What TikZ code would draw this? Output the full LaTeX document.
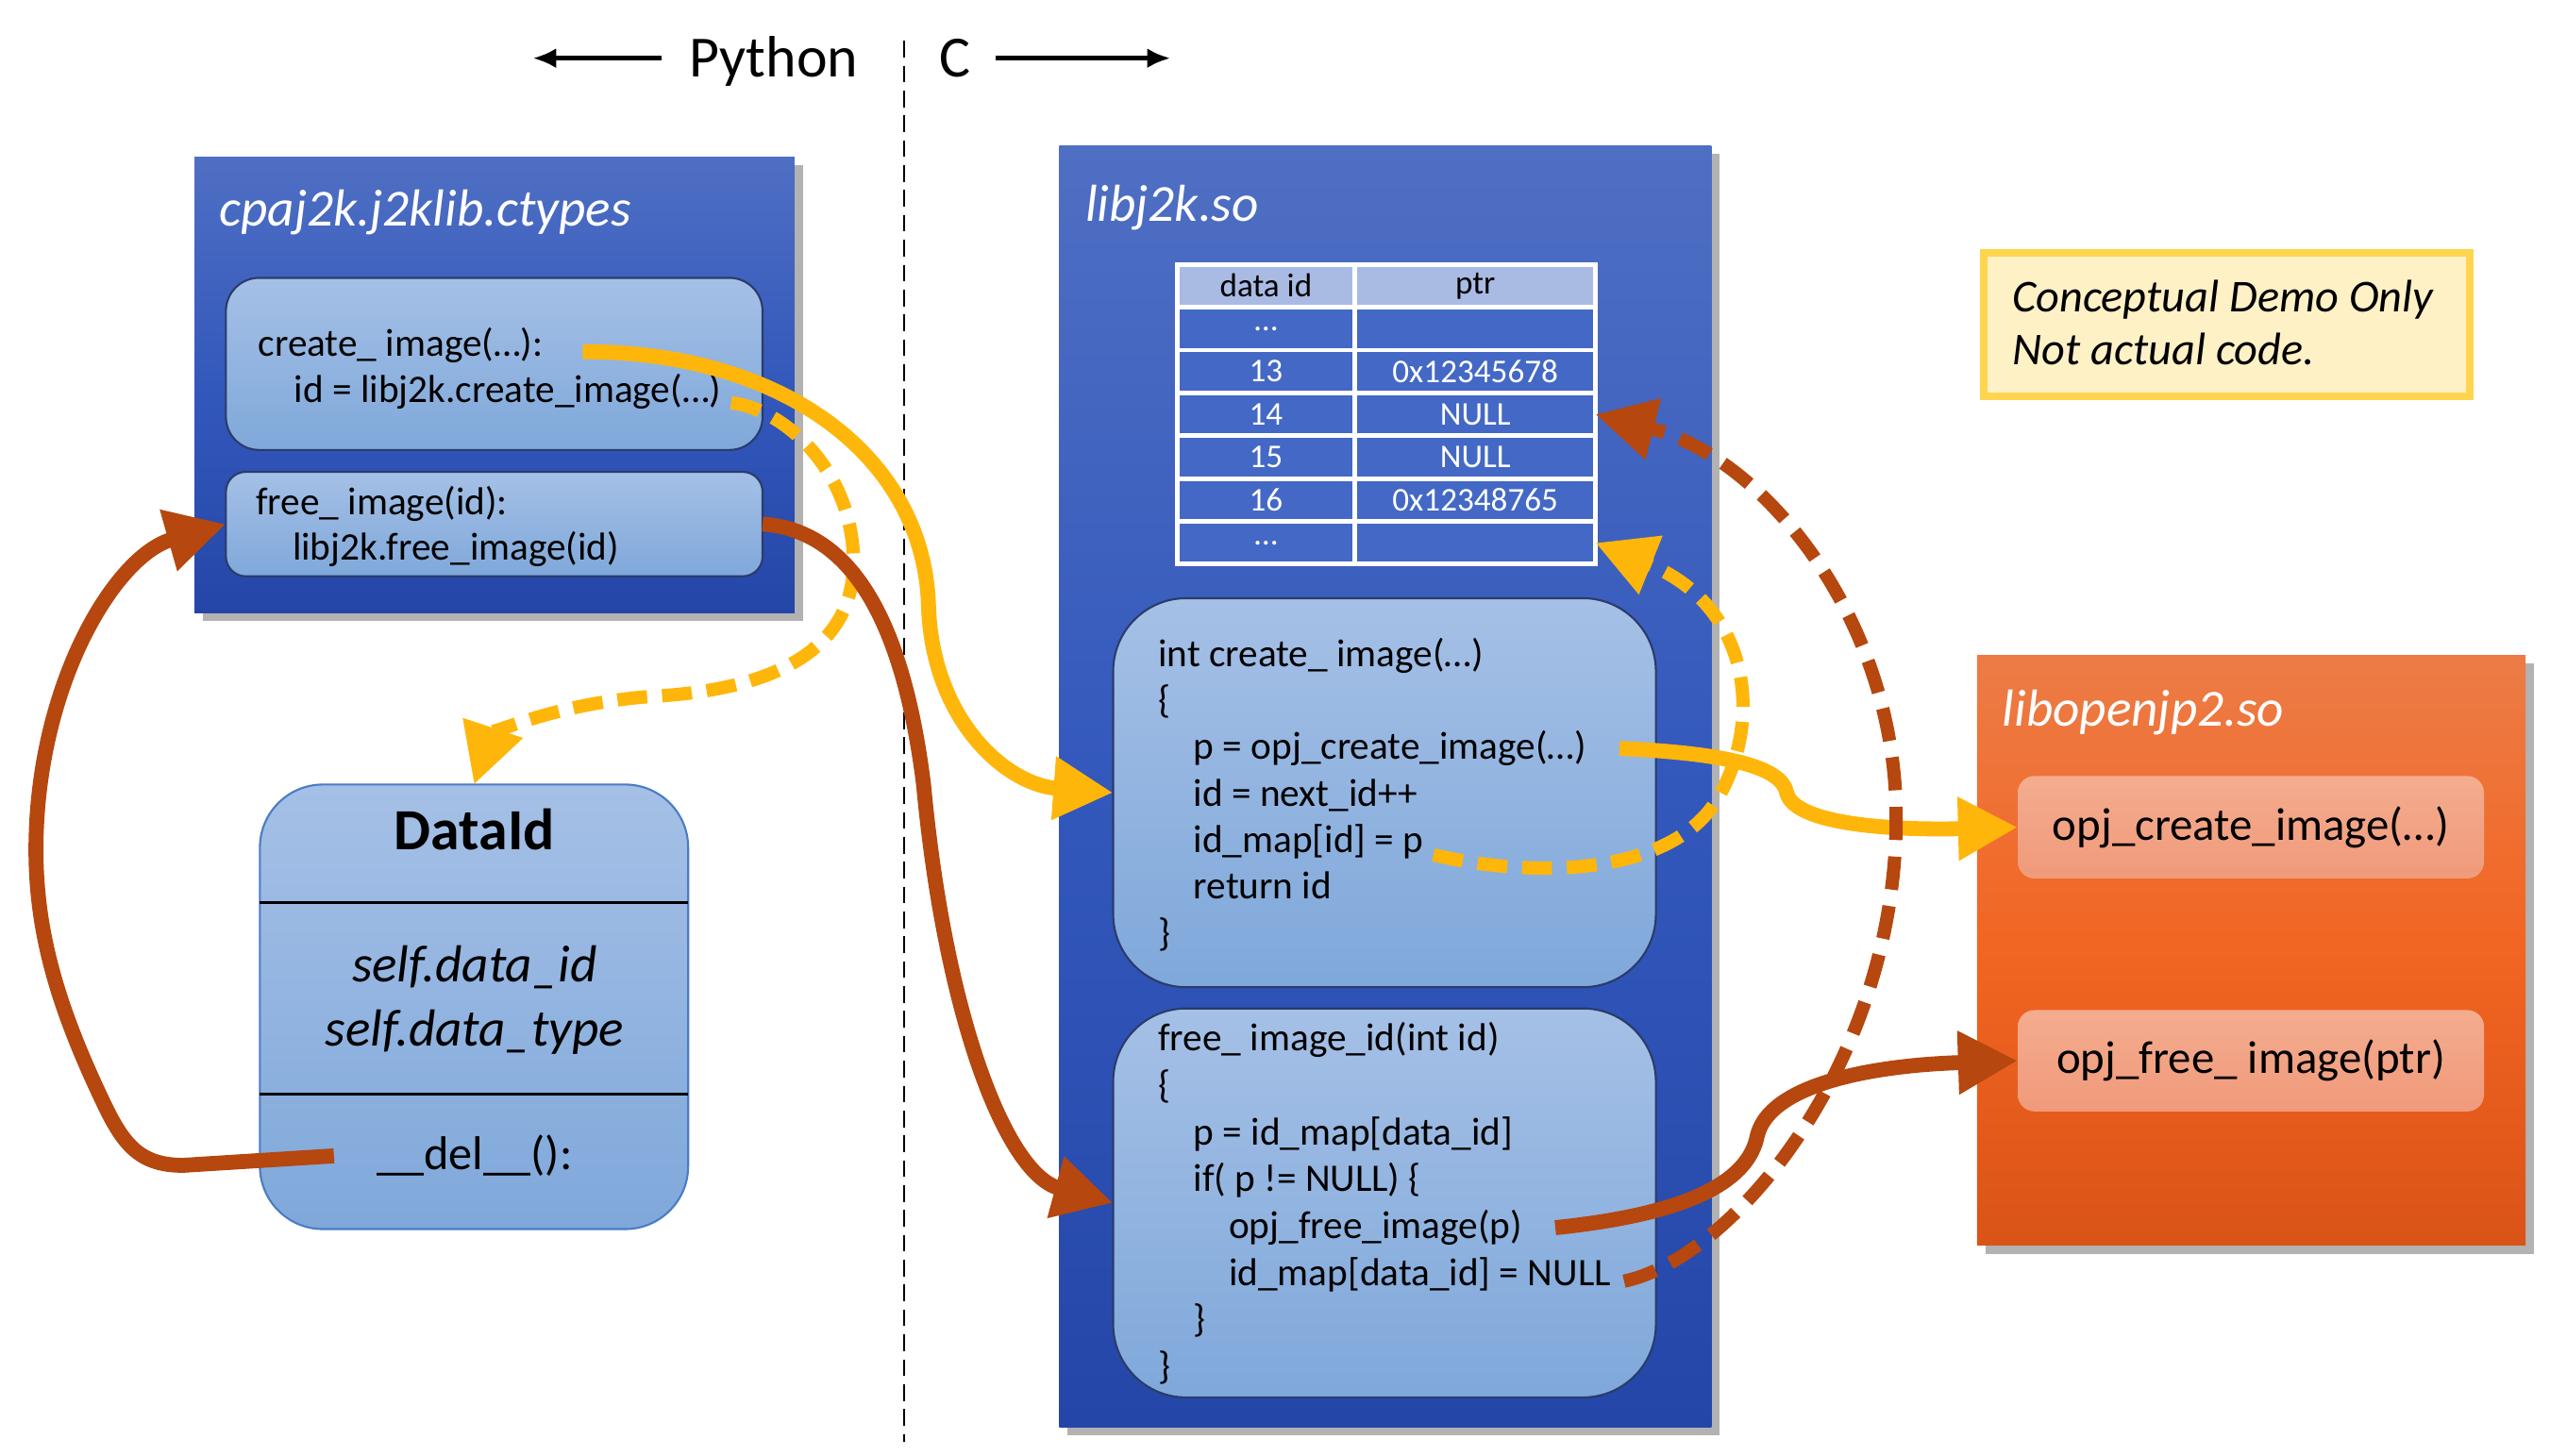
\documentclass[tikz,border=0pt]{standalone}
\usepackage{fontspec}
\setmainfont{Carlito}
\usetikzlibrary{arrows.meta, fit, shadows}

\definecolor{boxtop}{HTML}{4F6FC3}
\definecolor{boxmid}{HTML}{3358BC}
\definecolor{boxbot}{HTML}{2446A8}
\definecolor{lbtop}{HTML}{A5C0E6}
\definecolor{lbbot}{HTML}{7FA8DA}
\definecolor{navyline}{HTML}{2B3C6A}
\definecolor{dataline}{HTML}{4A7CC4}
\definecolor{ortop}{HTML}{EC7C46}
\definecolor{ormid}{HTML}{F26522}
\definecolor{orbot}{HTML}{DA5317}
\definecolor{opjtop}{HTML}{F4AC8F}
\definecolor{opjbot}{HTML}{F09A7A}
\definecolor{notefill}{HTML}{FFF1C6}
\definecolor{noteline}{HTML}{FFD44F}
\definecolor{headblue}{HTML}{A9BBE3}
\definecolor{cellblue}{HTML}{4468C5}
\definecolor{ylw}{HTML}{FFB60B}
\definecolor{brn}{HTML}{B5470F}

\begin{document}
\begin{tikzpicture}[
    x=0.01732cm, y=-0.01732cm,
    every node/.style={inner sep=0pt, outer sep=0pt},
    shade/.style={drop shadow={shadow xshift=2.5pt, shadow yshift=-2.5pt, opacity=.3, fill=black}},
    bluebox/.style={rectangle, top color=boxtop, bottom color=boxbot, middle color=boxmid, shade},
    orangebox/.style={rectangle, top color=ortop, bottom color=orbot, middle color=ormid, shade},
    funcbox/.style={rectangle, rounded corners=#1, draw=navyline, line width=.6pt, top color=lbtop, bottom color=lbbot},
    funcbox/.default=10pt,
    opjbox/.style={rectangle, rounded corners=5pt, top color=opjtop, bottom color=opjbot},
    opjtext/.style={font=\fontsize{13.9}{17}\selectfont},
    title/.style={font=\fontsize{15.7}{19}\selectfont\itshape, text=white, anchor=base west},
    hdr/.style={font=\fontsize{17.6}{21}\selectfont, anchor=base west},
    code/.style={font=\fontsize{11.75}{14.3}\selectfont, anchor=base west},
    big/.style={font=\fontsize{15.7}{19}\selectfont, anchor=base},
    cell/.style={draw=white, line width=1.4pt, fill=cellblue, text=white, font=\fontsize{10}{12}\selectfont, minimum height=0.4538cm},
    headcell/.style={cell, fill=headblue, text=black},
    hdrarrow/.style={line width=1.3pt, -{Latex[length=7pt,width=6pt]}},
    yarrow/.style={draw=ylw, line width=4.5pt, -{Triangle[length=18pt,width=18pt]}},
    barrow/.style={draw=brn, line width=4.5pt, -{Triangle[length=18pt,width=18pt]}},
    ydash/.style={yarrow, line width=4pt, dash pattern=on 9pt off 4.5pt},
    bdash/.style={barrow, line width=4pt, dash pattern=on 10pt off 5pt}
  ]
  \useasboundingbox (0,0) rectangle (1560,890.3);

  % header
  \node[hdr] (py) at (421.6,47) {Python};
  \node[hdr] (cc) at (575,47) {C};
  \coordinate (pyarr) at (405,35.6);
  \coordinate (pyend) at (326,35.6);
  \coordinate (carr) at (609,35.6);
  \coordinate (cend) at (716,35.6);
  \draw[hdrarrow] (pyarr) -- (pyend);
  \draw[hdrarrow] (carr) -- (cend);
  \coordinate (divtop) at (553,25);
  \coordinate (divbot) at (553,882);
  \draw[line width=.6pt, dash pattern=on 5pt off 2.5pt] (divtop) -- (divbot);

  % python side
  \node[bluebox, fit={(119,96) (486,375)}] (ctypes) {};
  \node[title] (ctypesttl) at (134.3,138.5) {cpaj2k.j2klib.ctypes};
  \node[funcbox, fit={(138.2,170) (466.5,275.3)}] (pycreate) {};
  \node[funcbox=6pt, fit={(138.2,288.7) (466.5,352.6)}] (pyfree) {};
  \node[code] (pyc1) at (158,217.8) {create\_ image(…):};
  \node[code] (pyc2) at (180,246) {id = libj2k.create\_image(…)};
  \node[code] (pyf1) at (156.6,315) {free\_ image(id):};
  \node[code] (pyf2) at (179,342.8) {libj2k.free\_image(id)};

  \node[funcbox=19pt, draw=dataline, fit={(159,480) (421,752)}] (dataid) {};
  \draw[line width=.8pt] (159,552) -- (421,552);
  \draw[line width=.8pt] (159,669.6) -- (421,669.6);
  \node[big, font=\fontsize{17.6}{21}\selectfont\bfseries] (dname) at (290.4,520) {DataId};
  \node[big, font=\fontsize{15.7}{19}\selectfont\itshape] (did) at (290.4,601) {self.data\_id};
  \node[big, font=\fontsize{15.7}{19}\selectfont\itshape] (dtype) at (290.4,639.7) {self.data\_type};
  \node[big, font=\fontsize{14.3}{17}\selectfont] (del) at (290.4,715.8) {\_\_del\_\_():};

  % libj2k.so
  \node[bluebox, fit={(648,89) (1047,873)}] (j2k) {};
  \node[title] (j2kttl) at (664,135.5) {libj2k.so};

  \node[headcell, minimum width=1.888cm] (hid) at (774.5,174.8) {data id};
  \node[headcell, minimum width=2.546cm] (hptr) at (902.5,174.8) {ptr};
  \foreach \id/\ptr [count=\r] in {…/, 13/0x12345678, 14/NULL, 15/NULL, 16/0x12348765, …/} {
    \node[cell, minimum width=1.888cm] (id\r) at (774.5,{188+(\r-0.5)*26.2}) {\id};
    \node[cell, minimum width=2.546cm] (ptr\r) at (902.5,{188+(\r-0.5)*26.2}) {\ptr};
  }

  \node[funcbox=22pt, fit={(681,366) (1013,604)}] (codecreate) {};
  \node[funcbox=22pt, fit={(681,617) (1013,855)}] (codefree) {};
  \foreach \ind/\txt [count=\i from 0] in {0/int create\_ image(…), 0/\{, 1/p = opj\_create\_image(…),
      1/id = next\_id++, 1/id\_map[id] = p, 1/return id, 0/\}}
    \node[code] (cr\i) at ({708.6+\ind*21.6},{407.6+\i*28.5}) {\txt};
  \foreach \ind/\txt [count=\i from 0] in {0/free\_ image\_id(int id), 0/\{, 1/p = id\_map[data\_id],
      1/if( p != NULL) \{, 2/opj\_free\_image(p), 2/id\_map[data\_id] = NULL, 1/\}, 0/\}}
    \node[code] (fr\i) at ({708.6+\ind*21.6},{643+\i*28.7}) {\txt};

  % note
  \node[rectangle, fill=notefill, draw=noteline, line width=2.3pt, fit={(1213.5,154.7) (1511,242.3)}] (note) {};
  \node[hdr, font=\fontsize{13.75}{16.8}\selectfont\itshape] (note1) at (1231,190.7) {Conceptual Demo Only};
  \node[hdr, font=\fontsize{13.75}{16.8}\selectfont\itshape] (note2) at (1231,223) {Not actual code.};

  % libopenjp2.so
  \node[orangebox, fit={(1209.5,400.8) (1545,762)}] (opj) {};
  \node[title] (opjttl) at (1225,444) {libopenjp2.so};
  \node[opjbox, fit={(1234.4,474.8) (1519.6,537.5)}] (opjcreate) {};
  \node[opjtext] (opjctxt) at (opjcreate) {opj\_create\_image(…)};
  \node[opjbox, fit={(1234.4,618) (1519.6,680)}] (opjfree) {};
  \node[opjtext] (opjftxt) at (opjfree) {opj\_free\_ image(ptr)};

  % calls
  \draw[yarrow] ([xshift=12pt,yshift=-2pt]pyc1.east) .. controls (480,215) and (565,280) .. (568,370)
    .. controls (570,440) and (615,480) .. (codecreate.west);
  \draw[ydash] ([xshift=3pt,yshift=-3.5pt]pyc2.east) .. controls (480,250) and (525,290) .. (522,350)
    .. controls (518,400) and (470,422) .. (400,426) .. controls (340,430) and (300,450) .. (dataid.north);
  \draw[barrow] (pyfree.east) .. controls (530,325) and (555,400) .. (565,480)
    .. controls (578,620) and (615,718) .. (codefree.west);
  \draw[barrow] ([xshift=-13pt]del.west) -- (112,713) .. controls (85,713) and (75,700) .. (62,672)
    .. controls (35,615) and (22,570) .. (22,520) .. controls (22,420) and (70,340) .. (pyfree.west);
  \draw[yarrow] ([xshift=10pt]cr2.east) .. controls (1060,461) and (1090,470) .. (1093,485)
    .. controls (1098,505) and (1160,508) .. (opjcreate.west);
  \draw[ydash] ([xshift=3pt,yshift=-4pt]cr4.east) .. controls (935,537) and (1020,537) .. (1050,490)
    .. controls (1080,440) and (1070,370) .. (ptr6.east);
  \draw[barrow] ([xshift=10pt]fr4.east) .. controls (1040,742) and (1070,720) .. (1075,695)
    .. controls (1082,665) and (1140,652) .. (opjfree.west);
  \draw[bdash] ([xshift=4pt,yshift=-2pt]fr5.east) .. controls (1060,770) and (1160,650) .. (1160,500)
    .. controls (1160,380) and (1080,280) .. (ptr3.east);
\end{tikzpicture}
\end{document}
